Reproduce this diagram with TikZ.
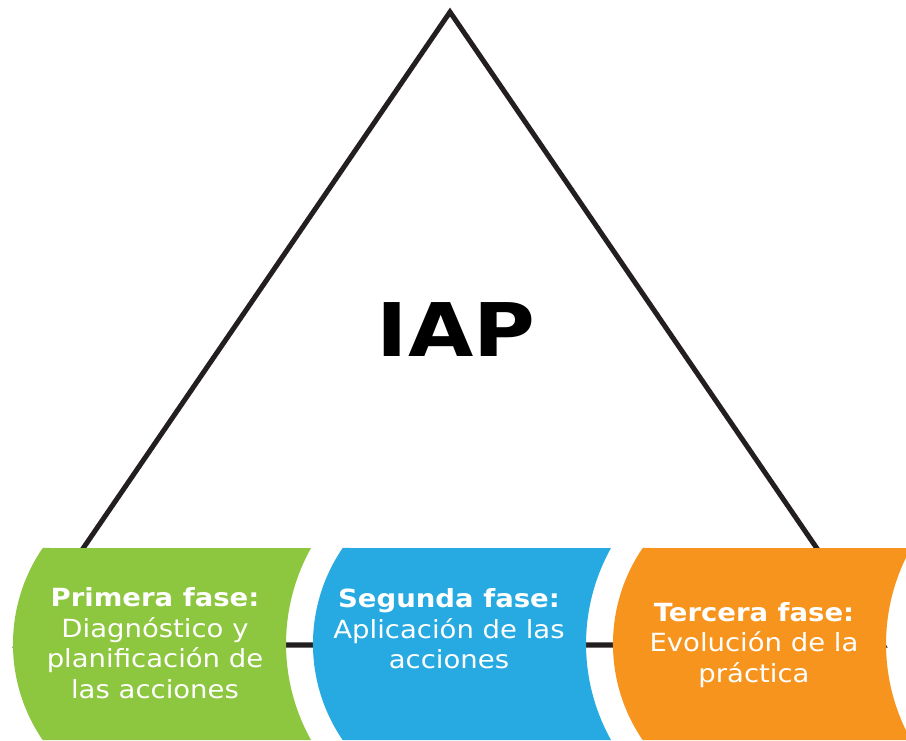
\documentclass[tikz,border=0pt]{standalone}
\usepackage{fontspec}
\setmainfont{DejaVu Sans}[FakeStretch=1.1]
\newfontfamily\titlefont{DejaVu Sans}[FakeStretch=1.14]
\usepackage{tikz}
\usetikzlibrary{positioning, calc}
\definecolor{greenFase}{RGB}{141, 198, 63}
\definecolor{blueFase}{RGB}{39, 170, 225}
\definecolor{orangeFase}{RGB}{247, 148, 30}
\definecolor{lineDark}{RGB}{35, 31, 32}
\tikzstyle{edge} = [line width=5pt, draw=lineDark, line join=miter]
\tikzstyle{fasetext} = [text=white, align=center, inner sep=0pt, font=\fontsize{25}{30.5}\selectfont]
\tikzstyle{title} = [text=black, inner sep=0pt, font=\fontsize{74}{80}\selectfont\titlefont\bfseries]
% one phase band: left side bulges out, right side is cut by the next circle
\newcommand{\faseband}[2]{%
  \fill [#2] ($(#1)+(-140.3,96)$) arc[start angle=145.6, end angle=214.4, radius=170]
    -- ($(#1)+(128,-96)$) arc[start angle=209.16, end angle=150.84, radius=197] -- cycle;}

\begin{document}
\begin{tikzpicture}[x=1pt, y=1pt]
\clip (0,0) rectangle (906,740);
\fill [white] (0,0) rectangle (906,740);

\coordinate (apex) at (450,728);
\coordinate (baseL) at (17,95);
\coordinate (baseR) at (883,95);
\draw [edge] (baseL) -- (apex) -- (baseR) -- cycle;

\node (iap) [title, anchor=base] at (456,383) {IAP};

\coordinate (c1) at (183,96);
\coordinate (c2) at (483,96);
\coordinate (c3) at (783,96);

\faseband{c1}{greenFase}
\faseband{c2}{blueFase}
\faseband{c3}{orangeFase}

\node (fase1) [fasetext, xshift=-28pt, yshift=1pt] at (c1) {\textbf{Primera fase:}\\Diagnóstico y\\planificación de\\las acciones};
\node (fase2) [fasetext, xshift=-34pt, yshift=15pt] at (c2) {\textbf{Segunda fase:}\\Aplicación de las\\acciones};
\node (fase3) [fasetext, xshift=-29pt, yshift=-1pt] at (c3) {\textbf{Tercera fase:}\\Evolución de la\\práctica};

\end{tikzpicture}
\end{document}
